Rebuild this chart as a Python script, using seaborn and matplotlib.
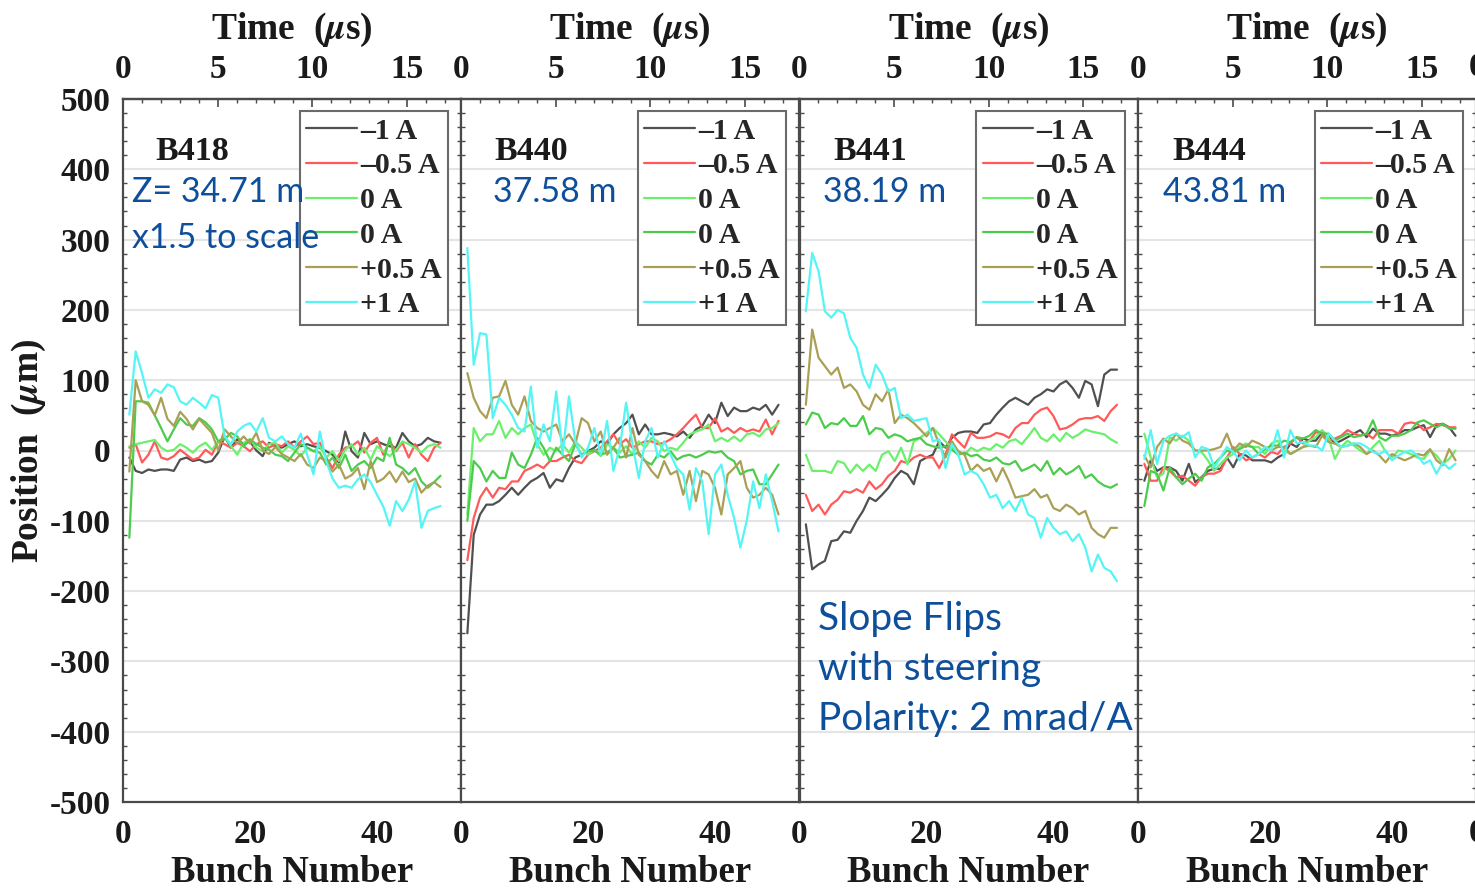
import numpy as np
import pandas as pd
import matplotlib
matplotlib.use("Agg")
import matplotlib.pyplot as plt
from matplotlib.ticker import MultipleLocator
import seaborn as sns

# ---------------- data ----------------
bunch = list(range(1, 51))
series_labels = ["\u20131 A", "\u20130.5 A", "0 A", "0 A", "+0.5 A", "+1 A"]
series_colors = ["#505050", "#ff5a5a", "#6cf06c", "#4ccc4c", "#aaa055", "#55f5f5"]
panel_names = ["B418", "B440", "B441", "B444"]
panel_z = ["Z= 34.71 m", "37.58 m", "38.19 m", "43.81 m"]

b418_m1 = [-10, -29, -32, -27, -29, -27, -27, -29, -13, -10, -15, -13, -17, -15, -3, 20, 4, 16, 9, 13,
           0, -8, 11, 6, 4, 9, 13, 6, 9, 6, 4, -1, -6, -17, 27, -1, -10, 25, 9, 13,
           9, 6, 4, 25, 13, 6, 9, 18, 13, 11]
b418_m05 = [4, 9, -17, -6, 13, -10, -13, -8, 1, -6, -13, -10, 1, -6, 13, 9, 4, 11, 6, -1,
            9, 13, 4, 9, 6, 13, 4, 13, 20, 9, 11, -10, -25, -6, 4, 6, 13, -3, 11, 18,
            -6, 13, -1, 11, -10, 9, -6, -15, 4, 11]
b418_0a = [6, 9, 11, 13, 15, 4, -1, 1, 9, 4, -3, 6, 11, 1, 13, 20, 6, -6, 11, 16,
           4, -1, 9, 11, -3, 6, 1, -8, 4, -1, 6, -10, -1, -15, 1, 9, -6, 4, -13, 6,
           -1, -8, 1, 13, 9, 4, -3, 6, 9, 4]
b418_0b = [-124, 70, 70, 68, 50, 32, 13, 30, 46, 37, 35, 46, 40, 30, 13, 16, 25, 20, 6, 16,
           9, 4, 1, -6, -8, -15, -3, 9, 4, -1, -3, -20, -10, -25, -6, -29, -20, -15, -25, -10,
           -15, 18, -20, -25, -34, -25, -44, -53, -45, -36]
b418_p05 = [-30, 100, 70, 65, 50, 75, 45, 35, 55, 45, 30, 45, 35, 25, 0, 30, 20, 10, 20, 10,
            25, 0, -5, 5, -5, -10, -15, -5, -20, -25, -10, -15, -30, -20, -40, -35, -25, -55, -15, -45,
            -40, -30, -45, -30, -45, -40, -60, -50, -45, -52]
b418_p1 = [51, 141, 110, 75, 87, 82, 94, 90, 70, 65, 75, 68, 60, 79, 75, 20, 9, 27, 35, 39,
           27, 46, 18, 13, 20, 9, 4, 24, -6, -34, 27, -15, -40, -53, -50, -53, -41, -34, -45, -63,
           -80, -107, -72, -86, -70, -44, -110, -86, -82, -79]

b440_m1 = [-260, -120, -91, -77, -77, -72, -63, -53, -63, -53, -44, -39, -32, -53, -41, -44, -25, -10, -6, -1,
           4, 13, 9, 23, 32, 39, 51, 23, 37, 23, 23, 25, 23, 20, 27, 18, 30, 35, 51, 39,
           68, 49, 61, 56, 56, 61, 58, 65, 51, 65]
b440_m05 = [-156, -96, -67, -53, -67, -53, -55, -44, -44, -29, -25, -20, -25, -15, -15, -10, -6, -15, -18, -6,
            -1, 4, 13, 23, 9, 16, 4, 9, 13, 13, 9, 11, 16, 23, 32, 42, 51, 32, 32, 46,
            27, 32, 25, 32, 27, 30, 27, 44, 23, 42]
b440_0a = [-91, 32, 13, 23, 23, 42, 18, 32, 23, 32, 37, 9, -6, 4, -1, 9, -3, 13, 4, -6,
           1, -8, 9, 4, -3, 6, -6, 13, 4, 18, 13, -1, 4, 1, 11, 23, 27, 30, 37, 13,
           18, 13, 20, 13, 23, 25, 20, 30, 32, 39]
b440_0b = [-100, -15, -25, -44, -29, -39, -39, -3, -20, -25, -6, 18, 4, -15, 4, -6, -15, 9, -6, -1,
           0, -6, -3, 4, -10, -8, -6, -3, -15, -20, -6, -10, -1, -13, -8, -6, -10, -6, -1, -3,
           -1, -10, -15, -34, -29, -27, -48, -48, -34, -20]
b440_p05 = [110, 75, 56, 46, 75, 77, 99, 65, 51, 77, 42, 32, 27, 32, 37, 13, 23, 9, 46, 39,
            13, 27, -6, 4, 18, -10, 32, -6, -15, -29, -39, -15, -34, -29, -63, -29, -72, -29, -34, -53,
            -91, -34, -25, -15, -53, -67, -63, -53, -63, -91]
b440_p1 = [288, 122, 167, 165, 46, 75, 65, 51, 32, 27, 91, 4, 37, 13, 84, -6, 77, 13, -10, 4,
           32, -6, 42, -29, 4, 68, 9, -39, 13, 32, -10, 13, -6, -25, -34, -84, -25, -44, -119, -34,
           -20, -63, -96, -138, -100, -44, -82, -34, -72, -115]

b441_m1 = [-105, -169, -162, -157, -129, -127, -115, -117, -100, -86, -67, -72, -63, -53, -39, -29, -34, -48, -15, -10,
           -6, 13, 4, 18, 25, 27, 27, 25, 37, 39, 51, 61, 70, 75, 70, 65, 75, 80, 87, 84,
           94, 99, 89, 75, 99, 94, 63, 108, 115, 115]
b441_m05 = [-63, -86, -77, -91, -77, -70, -58, -60, -55, -60, -44, -55, -48, -36, -29, -15, -18, -10, -6, -10,
            -10, -25, -6, 23, 13, 4, 25, 18, 18, 20, 25, 23, 18, 32, 39, 39, 51, 58, 61, 49,
            30, 32, 37, 44, 46, 46, 49, 42, 56, 65]
b441_0a = [-6, -29, -29, -29, -32, -15, -18, -32, -20, -29, -20, -29, -6, -1, -15, 4, -20, 13, 18, 25,
           32, 23, 13, 4, -1, -6, 4, -1, 4, 1, 9, 4, 13, 16, 9, 20, 32, 18, 13, 23,
           13, 25, 18, 23, 30, 27, 25, 23, 16, 11]
b441_0b = [37, 54, 51, 32, 39, 37, 46, 35, 35, 49, 23, 32, 30, 18, 23, 20, 13, 16, 18, 9,
           6, 4, 6, 1, -6, -3, -8, -6, -13, -15, -10, -18, -20, -15, -29, -25, -20, -29, -15, -34,
           -25, -34, -29, -22, -39, -34, -44, -50, -53, -48]
b441_p05 = [65, 172, 132, 120, 108, 118, 89, 94, 84, 65, 58, 80, 70, 87, 39, 51, 46, 39, 30, 20,
            32, 9, -10, 13, -1, -6, -29, -20, -29, -25, -44, -25, -44, -67, -65, -63, -55, -67, -63, -82,
            -86, -77, -82, -91, -86, -110, -119, -124, -110, -110]
b441_p1 = [198, 281, 255, 198, 189, 200, 195, 160, 146, 108, 89, 122, 108, 84, 89, 46, 51, 42, 44, 46,
           13, 16, -25, 9, -6, -34, -29, -34, -48, -67, -63, -82, -72, -86, -67, -91, -96, -124, -96, -110,
           -119, -115, -129, -119, -138, -172, -148, -167, -172, -186]

b444_m1 = [-43, -14, -29, -24, -24, -29, -43, -19, -45, -38, -29, -26, -26, -10, -24, -5, -7, -14, -14, -14,
           -17, -10, -5, 10, 5, 17, 14, 14, 26, 21, 10, 14, 19, 24, 29, 19, 31, 24, 24, 21,
           24, 29, 29, 33, 36, 19, 36, 38, 33, 21]
b444_m05 = [-19, -43, -43, -24, -29, -38, -36, -43, -50, -38, -33, -33, -29, -10, 5, -5, -14, -10, -5, -10,
            -2, -5, 5, 10, 19, 10, 14, 26, 24, 14, 17, 21, 29, 24, 21, 24, 17, 29, 29, 29,
            24, 38, 40, 38, 29, 33, 38, 36, 33, 33]
b444_0a = [24, -10, -38, -33, 19, 14, 21, 14, 0, -2, -14, -29, -19, -10, -5, 5, 10, 5, 5, -5,
           10, 14, 0, -5, 0, 5, 14, 19, 29, 19, -12, 5, 14, 7, 0, -5, 5, 14, -2, -10,
           0, -2, -5, -10, -12, 0, -7, -19, -12, 0]
b444_0b = [-79, -29, -33, -57, -24, -38, -48, -40, -33, -43, -24, -19, -10, 0, -2, 2, 7, 5, -5, 2,
           7, 7, 14, 12, 19, 17, 21, 29, 24, 24, 14, 19, 24, 19, 21, 24, 43, 19, 14, 21,
           21, 24, 29, 40, 43, 38, 33, 38, 31, 31]
b444_p05 = [-7, -24, 5, 17, 10, 24, 14, 10, 0, 0, 0, 2, 5, 24, 0, 10, 5, 14, 10, 5,
            0, 5, 5, -5, 0, 5, 7, 5, 21, 12, 10, 5, 7, 10, 5, -5, 0, -7, -17, -5,
            -10, -14, -10, -5, -7, 2, -14, -21, 2, -14]
b444_p1 = [-12, 29, -19, 14, 21, 24, 19, 26, -10, 5, 2, -24, -10, 5, -2, -14, 0, -10, -5, 5,
           0, 29, -10, 29, 10, 12, 7, 7, 0, 24, 14, 5, 7, 10, 10, 5, -2, -5, 0, -14,
           -7, -2, 0, -7, -19, -14, -33, -17, -26, -19]

panels = [
    [b418_m1, b418_m05, b418_0a, b418_0b, b418_p05, b418_p1],
    [b440_m1, b440_m05, b440_0a, b440_0b, b440_p05, b440_p1],
    [b441_m1, b441_m05, b441_0a, b441_0b, b441_p05, b441_p1],
    [b444_m1, b444_m05, b444_0a, b444_0b, b444_p05, b444_p1],
]

us_per_bunch = 0.3354

# ---------------- style ----------------
sns.set_theme(style="white")
plt.rcParams["font.family"] = ["Liberation Serif", "DejaVu Serif"]
plt.rcParams["font.weight"] = "bold"
plt.rcParams["mathtext.fontset"] = "stix"
plt.rcParams["axes.unicode_minus"] = False
plt.rcParams["axes.linewidth"] = 1.6

W, H = 1475, 890
fig = plt.figure(figsize=(W / 100, H / 100), dpi=100)
fig.patch.set_facecolor("white")

lefts = [123, 461, 799.5, 1138]
ax_w = 338
ax_bottom = 88
ax_h = 703
blue = "#0e4f9c"
axes_color = "#4a4a4a"
txt_color = "#1a1a1a"

for i, (left, data) in enumerate(zip(lefts, panels)):
    ax = fig.add_axes([left / W, ax_bottom / H, ax_w / W, ax_h / H])
    for j, vals in enumerate(data):
        df = pd.DataFrame({"bunch": bunch, "pos": vals})
        sns.lineplot(data=df, x="bunch", y="pos", ax=ax, color=series_colors[j],
                     label=series_labels[j], linewidth=1.6, estimator=None, zorder=3)
    ax.set_xlim(0, ax_w / 6.35)
    ax.set_ylim(-500, 500)
    ax.set_xticks([0, 20, 40])
    ax.set_yticks(np.arange(-500, 501, 100))
    ax.yaxis.set_minor_locator(MultipleLocator(20))
    for y in range(-400, 500, 100):
        ax.axhline(y, color="#e4e4e4", linewidth=1.5, zorder=1)
    for sp in ax.spines.values():
        sp.set_color(axes_color)
        sp.set_linewidth(1.6)
    ax.tick_params(axis="x", which="major", direction="in", length=6, width=1.2,
                   colors=axes_color, labelcolor=txt_color, labelsize=24, pad=12, top=False)
    ax.tick_params(axis="y", which="major", direction="in", length=6, width=1.2,
                   colors=axes_color, labelcolor=txt_color, labelsize=24, left=True, right=True,
                   labelleft=(i == 0), pad=9)
    ax.tick_params(axis="y", which="minor", direction="in", length=3, width=1.0,
                   colors=axes_color, left=True, right=True)
    for lab in ax.get_xticklabels() + ax.get_yticklabels():
        lab.set_fontweight("bold")
    ax.set_xlabel("Bunch Number", fontsize=26.5, fontweight="bold", labelpad=4, color=txt_color)
    if i == 0:
        ax.set_ylabel("Position  ($\\mu$m)", fontsize=27, fontweight="bold", labelpad=1, color=txt_color)
    else:
        ax.set_ylabel("")

    sec = ax.secondary_xaxis("top", functions=(lambda b: b * us_per_bunch, lambda t: t / us_per_bunch))
    sec.set_xticks([0, 5, 10, 15])
    sec.xaxis.set_minor_locator(MultipleLocator(1))
    sec.tick_params(axis="x", which="major", direction="in", length=6, width=1.2,
                    colors=axes_color, labelcolor=txt_color, labelsize=24, pad=10)
    sec.tick_params(axis="x", which="minor", direction="in", length=3, width=1.0, colors=axes_color)
    for lab in sec.get_xticklabels():
        lab.set_fontweight("bold")
    sec.spines["top"].set_color(axes_color)
    sec.set_xlabel("Time  ($\\mu$s)", fontsize=27, fontweight="bold", labelpad=11, color=txt_color)

    leg = ax.legend(loc="upper right", bbox_to_anchor=(0.962, 0.983), fontsize=21.5,
                    frameon=True, fancybox=False, edgecolor="#6a6a6a", framealpha=1,
                    handlelength=1.7, handletextpad=0.1, labelspacing=0.26,
                    borderpad=0.22, borderaxespad=0.0)
    leg.get_frame().set_linewidth(1.5)
    for t in leg.get_texts():
        t.set_fontweight("bold")
    leg.set_zorder(5)

    nm_x = [155, 494, 833, 1172][i]
    fig.text(nm_x / W, 1 - 152 / H, panel_names[i], fontsize=24.5, fontweight="bold",
             va="center", ha="left", color=txt_color, zorder=10)
    z_x = [132, 493, 823, 1163][i]
    fig.text(z_x / W, 1 - 192 / H, panel_z[i], fontsize=24.5, fontweight="normal",
             family="Lato", va="center", ha="left", color=blue, zorder=10)

fig.text(132 / W, 1 - 238 / H, "x1.5 to scale", fontsize=24.5, family="Lato",
         fontweight="normal", va="center", ha="left", color=blue, zorder=10)
for k, line in enumerate(["Slope Flips", "with steering", "Polarity: 2 mrad/A"]):
    fig.text(818 / W, 1 - (619 + 50 * k) / H, line, fontsize=28, family="Lato",
             fontweight="normal", va="center", ha="left", color=blue, zorder=10)

# partial next-panel tick labels at the right edge (cut off in the reference too)
fig.text(1477 / W, 1 - 68 / H, "0", fontsize=24, fontweight="bold", ha="center", va="center", color=txt_color)
fig.text(1477 / W, 1 - 833 / H, "0", fontsize=24, fontweight="bold", ha="center", va="center", color=txt_color)

fig.savefig("out.png", dpi=100, facecolor="white")
